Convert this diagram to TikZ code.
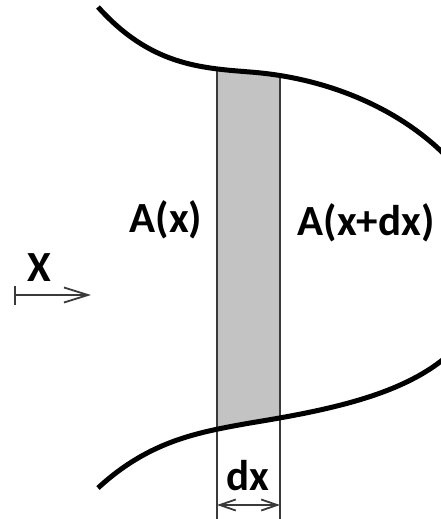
\documentclass[tikz,border=0pt]{standalone}
\usepackage{fontspec}
\setmainfont{Carlito}
\usetikzlibrary{arrows.meta}
\definecolor{stripgray}{HTML}{C3C3C3}
\definecolor{edgegray}{HTML}{3A3A3A}
\tikzset{
  curve/.style={line width=5pt, black},
  stripline/.style={line width=1.2pt, edgegray},
  lbl/.style={font=\fontsize{43}{50}\selectfont\bfseries, inner sep=0pt, text=black},
  dimarrow/.style={line width=1.8pt, edgegray}
}
\begin{document}
\begin{tikzpicture}[x=1pt,y=-1pt]
\useasboundingbox (0,0) rectangle (440,519);
% grey strip
\begin{scope}
\clip (217,0) rectangle (280,519);
\fill[stripgray] (98,7) .. controls (150,65) and (200,68) .. (250,72) .. controls (330,78) and (400,110) .. (445,155)
  -- (445,358) .. controls (400,395) and (330,410) .. (250,423) .. controls (200,432) and (150,440) .. (98,488) -- cycle;
\end{scope}
% strip sides
\coordinate (lt) at (217,68);
\coordinate (lb) at (217,519);
\coordinate (rt) at (280,75);
\coordinate (rb) at (280,519);
\draw[stripline] (lt) -- (lb);
\draw[stripline] (rt) -- (rb);
% curves
\draw[curve] (98,7) .. controls (150,65) and (200,68) .. (250,72) .. controls (330,78) and (400,110) .. (445,155);
\draw[curve] (98,488) .. controls (150,440) and (200,432) .. (250,423) .. controls (330,410) and (400,395) .. (445,358);
% labels
\node[lbl] (ax) at (166,220) {A(x)};
\node[lbl] (axdx) at (366,223) {A(x+dx)};
\node[lbl] (xl) at (39,268) {X};
\node[lbl] (dx) at (248,476) {dx};
% X arrow
\coordinate (xs) at (14,295);
\coordinate (xe) at (91,295);
\draw[dimarrow, {Bar[width=19pt]}-{Straight Barb[length=24pt,width=15pt]}] (xs) -- (xe);
% dx arrow
\coordinate (ds) at (217,505);
\coordinate (de) at (280,505);
\draw[dimarrow, {Straight Barb[length=16pt,width=11pt]}-{Straight Barb[length=16pt,width=11pt]}] (ds) -- (de);
\end{tikzpicture}
\end{document}
